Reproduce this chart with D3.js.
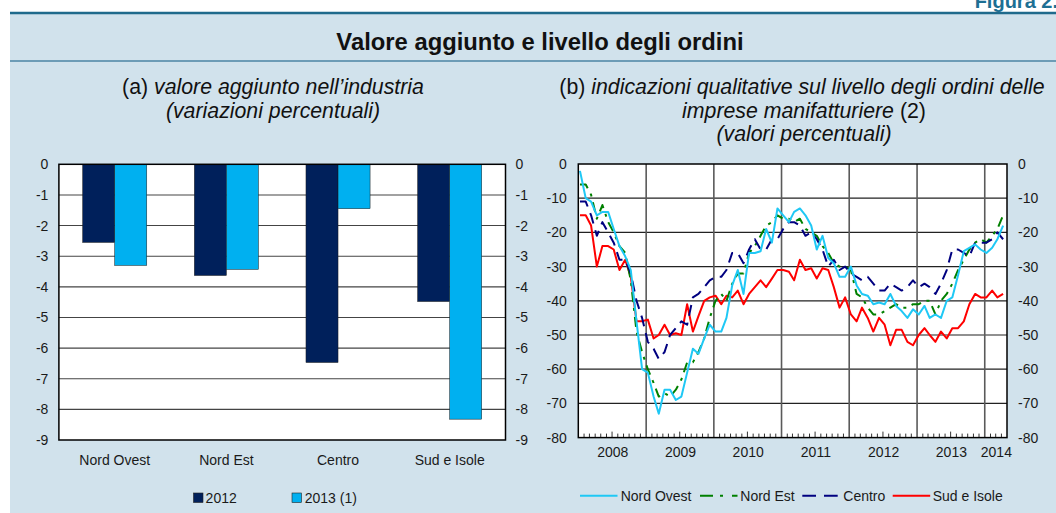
<!DOCTYPE html>
<html><head><meta charset="utf-8">
<script src="https://cdn.jsdelivr.net/npm/d3@7"></script>
<style>
body{margin:0;background:#fff}
svg{display:block}
text{font-family:"Liberation Sans",Arial,sans-serif}
</style>
</head><body>
<svg id="c" width="1056" height="513"></svg>
<script>
// ---------- DATA ----------
const regions = ["Nord Ovest", "Nord Est", "Centro", "Sud e Isole"];
const barSeries = ["2012", "2013 (1)"];
const va2012 = [-2.55, -3.63, -6.47, -4.48];
const va2013 = [-3.30, -3.43, -1.45, -8.32];
const barTicks = [0, -1, -2, -3, -4, -5, -6, -7, -8, -9];

const firstMonth = new Date(2008, 0, 1);
const yearLabels = ["2008", "2009", "2010", "2011", "2012", "2013", "2014"];
const lineTicks = [0, -10, -20, -30, -40, -50, -60, -70, -80];
const lineNames = ["Nord Ovest", "Nord Est", "Centro", "Sud e Isole"];

const nordOvest = [-2,-10,-11,-15,-14,-14,-19,-24,-27,-31,
  -46,-60,-61,-68,-73,-66,-66,-69,-68,-61,
  -54,-55.5,-51,-47,-49,-49,-45,-35.5,-31,-38,
  -26,-26,-25.5,-19,-23,-13,-15,-17,-14,-13,
  -15,-18,-25,-21,-27.5,-29,-33,-33,-30,-35.5,
  -38,-38.5,-41,-40.5,-41,-38,-41.5,-43,-45,-42.5,
  -44,-41.5,-45,-44,-45,-40,-39,-32.5,-25.5,-24.5,
  -23.5,-25,-26,-24.5,-22,-18];
const nordEst = [-6,-6,-9,-16,-12,-17,-20,-24,-26,-34,
  -49,-55,-60,-64,-68,-67,-68,-66,-63,-58,
  -58,-55,-51,-45,-40,-38,-40,-35,-32,-32,
  -26,-24,-21,-18,-17,-15,-16,-16,-17,-16,
  -19,-20,-21,-24,-26,-29,-30,-30,-31,-38,
  -39,-42,-44,-44,-43,-42,-41,-42,-42,-41,
  -41,-40,-40,-44,-40,-38,-35,-31,-28,-25,
  -23,-22,-23,-21,-19,-15];
const centro = [-11,-11,-15,-21,-17,-20,-23,-28,-28,-32,
  -40,-45,-52,-54,-57,-55,-50,-48,-46,-47,
  -39,-38,-36,-34,-33,-33,-31,-26,-26,-29,
  -25,-22,-25,-25,-22,-22,-19,-17,-17,-18,
  -21,-20,-22,-25,-30,-28,-31,-30,-32,-33,
  -34,-33,-35,-37,-37,-35,-36,-37,-36,-34,
  -36,-35,-36,-38,-35,-31,-25,-25,-26,-27,
  -23,-23,-23,-22,-20,-22];
const sudIsole = [-15,-15,-18,-30,-24,-24,-25,-31,-28,-33,
  -46,-46,-45.5,-51,-50,-47,-50,-49.5,-50,-41,
  -49,-44.5,-40,-39,-38.5,-41,-38.5,-39,-37,-41,
  -38,-36,-34,-36,-33.5,-31,-31,-31.5,-34,-28,
  -31,-30.5,-33.5,-30.5,-31,-36,-42,-39,-44,-46,
  -42,-45,-49,-45,-47,-53,-48.5,-48.5,-52,-53,
  -50,-48,-50,-52,-49,-51,-48,-48,-46,-41,
  -38,-39,-39,-37,-39,-38];

// ---------- SETUP ----------
const svg = d3.select("#c");
const FONT = 14;
const txt = "#1a1a1a";

svg.append("rect").attr("x", 0).attr("y", 0).attr("width", 1056).attr("height", 513).attr("fill", "#fff");
svg.append("rect").attr("x", 10).attr("y", 13).attr("width", 1046).attr("height", 500).attr("fill", "#d1e2ec");
svg.append("line").attr("x1", 10).attr("x2", 1056).attr("y1", 13).attr("y2", 13)
  .attr("stroke", "#1f6a8c").attr("stroke-width", 2.5);
svg.append("line").attr("x1", 10).attr("x2", 1056).attr("y1", 61).attr("y2", 61)
  .attr("stroke", "#4b84a4").attr("stroke-width", 1.5);

svg.append("text").attr("x", 1058).attr("y", 8).attr("text-anchor", "end")
  .attr("font-size", 20).attr("font-weight", "bold").attr("fill", "#1d6f93").text("Figura 2.");

svg.append("text").attr("x", 540).attr("y", 50).attr("text-anchor", "middle")
  .attr("font-size", 23.8).attr("font-weight", "bold").attr("fill", "#111")
  .text("Valore aggiunto e livello degli ordini");

function subtitle(x, y, parts) {
  const t = svg.append("text").attr("x", x).attr("y", y).attr("text-anchor", "middle")
    .attr("font-size", 21.3).attr("fill", "#111");
  parts.forEach(p => t.append("tspan").attr("font-style", p[1] ? "italic" : "normal").text(p[0]));
}
subtitle(273, 94, [["(a) ", false], ["valore aggiunto nell’industria", true]]);
subtitle(273, 117.5, [["(variazioni percentuali)", true]]);
subtitle(802, 94, [["(b) ", false], ["indicazioni qualitative sul livello degli ordini delle", true]]);
subtitle(804, 117.5, [["imprese manifatturiere ", true], ["(2)", false]]);
subtitle(804, 140.5, [["(valori percentuali)", true]]);

function styleAxis(g) {
  g.attr("font-size", FONT).attr("font-family", "Liberation Sans, Arial, sans-serif");
  g.select(".domain").remove();
  g.selectAll("text").attr("fill", txt);
}

// ---------- LEFT: bar chart ----------
const L = {x0: 58.9, x1: 505.5, y0: 164.3, y1: 440};
const yL = d3.scaleLinear().domain([-9, 0]).range([L.y1, L.y0]);
const xL = d3.scaleBand().domain(regions).range([L.x0, L.x1]).paddingInner(0.426).paddingOuter(0.213);
const xSub = d3.scaleBand().domain(barSeries).range([0, xL.bandwidth()]);
const barColors = d3.scaleOrdinal().domain(barSeries).range(["#00205b", "#00b0f0"]);

svg.append("rect").attr("x", L.x0).attr("y", L.y0).attr("width", L.x1 - L.x0).attr("height", L.y1 - L.y0).attr("fill", "#fff");
svg.append("g").selectAll("line").data(barTicks.filter(d => d !== 0 && d !== -9)).join("line")
  .attr("x1", L.x0).attr("x2", L.x1).attr("y1", d => yL(d)).attr("y2", d => yL(d))
  .attr("stroke", "#444").attr("stroke-width", 1.1);

const barData = regions.flatMap((r, i) => [
  {r, s: barSeries[0], v: va2012[i]},
  {r, s: barSeries[1], v: va2013[i]}
]);
svg.append("g").selectAll("rect").data(barData).join("rect")
  .attr("x", d => xL(d.r) + xSub(d.s))
  .attr("width", xSub.bandwidth())
  .attr("y", d => yL(0))
  .attr("height", d => yL(d.v) - yL(0))
  .attr("fill", d => barColors(d.s))
  .attr("stroke", "#1a1a1a").attr("stroke-width", 0.5);

svg.append("rect").attr("x", L.x0).attr("y", L.y0).attr("width", L.x1 - L.x0).attr("height", L.y1 - L.y0)
  .attr("fill", "none").attr("stroke", "#000").attr("stroke-width", 1.5);

svg.append("g").attr("transform", `translate(${L.x0},0)`)
  .call(d3.axisLeft(yL).tickValues(barTicks).tickSize(0).tickPadding(10.5).tickFormat(d => String(d)))
  .call(styleAxis);
svg.append("g").attr("transform", `translate(${L.x1},0)`)
  .call(d3.axisRight(yL).tickValues(barTicks).tickSize(0).tickPadding(10).tickFormat(d => String(d)))
  .call(styleAxis);
svg.append("g").attr("transform", `translate(0,${L.y1})`)
  .call(d3.axisBottom(xL).tickSize(0).tickPadding(15))
  .call(styleAxis);

// left legend
const legL = svg.append("g");
[[193.5, 205.6], [292, 304.7]].forEach((p, i) => {
  legL.append("rect").attr("x", p[0]).attr("y", 493).attr("width", 9.5).attr("height", 9.5)
    .attr("fill", barColors(barSeries[i])).attr("stroke", "#222").attr("stroke-width", 0.6);
  legL.append("text").attr("x", p[1]).attr("y", 502.5).attr("font-size", FONT).attr("fill", txt).text(barSeries[i]);
});

// ---------- RIGHT: line chart ----------
const R = {x0: 578.3, x1: 1007, y0: 164, y1: 437.6};
const nMonths = nordOvest.length;
const lastMonth = d3.timeMonth.offset(firstMonth, nMonths);
const xT = d3.scaleTime().domain([firstMonth, lastMonth]).range([R.x0, R.x1]);
const months = d3.timeMonth.range(firstMonth, lastMonth);
const yR = d3.scaleLinear().domain([-80, 0]).range([R.y1, R.y0]);

svg.append("rect").attr("x", R.x0).attr("y", R.y0).attr("width", R.x1 - R.x0).attr("height", R.y1 - R.y0).attr("fill", "#fff");
svg.append("g").selectAll("line").data(lineTicks.filter(d => d !== 0 && d !== -80)).join("line")
  .attr("x1", R.x0).attr("x2", R.x1).attr("y1", d => yR(d)).attr("y2", d => yR(d))
  .attr("stroke", "#222").attr("stroke-width", 1.2);
const yearStarts = yearLabels.slice(1).map(y => new Date(+y, 0, 1));
svg.append("g").selectAll("line").data(yearStarts).join("line")
  .attr("x1", d => xT(d)).attr("x2", d => xT(d)).attr("y1", R.y0).attr("y2", R.y1)
  .attr("stroke", "#5a5a5a").attr("stroke-width", 1.6);
// monthly minor ticks
svg.append("g").selectAll("line").data(months.filter(m => m.getMonth() !== 0)).join("line")
  .attr("x1", d => xT(d)).attr("x2", d => xT(d))
  .attr("y1", R.y1).attr("y2", d => R.y1 - (d.getMonth() === 6 ? 6 : 4))
  .attr("stroke", "#333").attr("stroke-width", 1);

const pointDate = (i) => d3.timeDay.offset(months[i], 9);
const lineGen = d3.line().x((d, i) => xT(pointDate(i))).y(d => yR(d));
const lineStyles = [
  {data: nordOvest, color: "#1fc8f5", dash: null},
  {data: nordEst, color: "#008000", dash: "10,6,3,6"},
  {data: centro, color: "#000080", dash: "11,7"},
  {data: sudIsole, color: "#ff0000", dash: null}
];
const drawOrder = [3, 1, 2, 0];
drawOrder.forEach(k => {
  const s = lineStyles[k];
  svg.append("path").datum(s.data).attr("d", lineGen)
    .attr("fill", "none").attr("stroke", s.color).attr("stroke-width", 2)
    .attr("stroke-dasharray", s.dash).attr("stroke-linejoin", "round");
});

svg.append("rect").attr("x", R.x0).attr("y", R.y0).attr("width", R.x1 - R.x0).attr("height", R.y1 - R.y0)
  .attr("fill", "none").attr("stroke", "#000").attr("stroke-width", 1.5);

svg.append("g").attr("transform", `translate(${R.x0},0)`)
  .call(d3.axisLeft(yR).tickValues(lineTicks).tickSize(0).tickPadding(11.5).tickFormat(d => String(d)))
  .call(styleAxis);
svg.append("g").attr("transform", `translate(${R.x1},0)`)
  .call(d3.axisRight(yR).tickValues(lineTicks).tickSize(0).tickPadding(11).tickFormat(d => String(d)))
  .call(styleAxis);

// year labels centred in each year's span
const yearCentres = yearLabels.map(y => {
  const a = new Date(+y, 0, 1), b = d3.min([new Date(+y + 1, 0, 1), lastMonth]);
  return new Date((a.getTime() + b.getTime()) / 2);
});
svg.append("g").attr("transform", `translate(0,${R.y1})`)
  .call(d3.axisBottom(xT).tickValues(yearCentres).tickSize(0).tickPadding(9)
    .tickFormat((d, i) => yearLabels[i]))
  .call(styleAxis);

// right legend
const legR = svg.append("g");
const legItems = [
  {x: 580, tx: 620.7},
  {x: 700, tx: 740.3},
  {x: 802.3, tx: 843.3},
  {x: 892.7, tx: 932.7}
];
const legDash = [null, "13,7,3,9", "13.7,8", null];
legItems.forEach((it, k) => {
  legR.append("line").attr("x1", it.x).attr("x2", it.x + 37.5).attr("y1", 495.7).attr("y2", 495.7)
    .attr("stroke", lineStyles[k].color).attr("stroke-width", 2).attr("stroke-dasharray", legDash[k]);
  legR.append("text").attr("x", it.tx).attr("y", 500.6).attr("font-size", FONT).attr("fill", txt).text(lineNames[k]);
});
</script>
</body></html>
